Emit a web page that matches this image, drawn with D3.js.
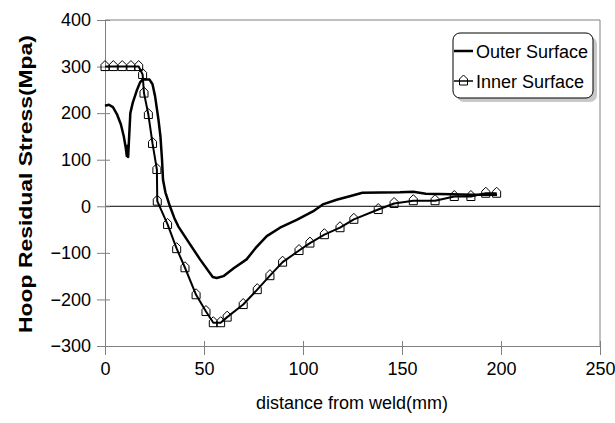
<!DOCTYPE html>
<html lang="en">
<head>
<meta charset="utf-8">
<title>Hoop residual stress</title>
<script src="https://d3js.org/d3.v7.min.js"></script>
<style>
	body { margin: 0; background: #fff; }
	text { font-family: "Liberation Sans", Arial, sans-serif; }
</style>
</head>
<body>
<div id="chart"></div>
<script>
// distance from weld (mm) and stress (MPa)
let outerX = [0, 2, 4, 6, 8, 9.5, 10.5, 11, 11.4, 11.7, 12.2, 12.8, 14, 16, 17.7, 19, 22.5, 24, 25.3, 27, 28, 28.8, 29.3, 30.5, 32.8, 35, 37, 41.3, 48, 54.4, 56.4, 59.8, 65, 71.5, 76, 81.7, 88.4, 96.8, 105, 110, 117, 125, 130, 149, 155.7, 162, 175, 185, 198];
let outerY = [216, 218, 213, 198, 176, 150, 125, 108, 130, 106, 150, 200, 222, 248, 266, 272, 272, 262, 236, 186, 150, 100, 57, 30, 0, -25, -43, -71, -114, -152, -154, -150, -133, -114, -90, -64, -46, -29, -11, 4, 14, 23, 29, 30, 31, 27, 26, 25, 25];

let innerX = [0, 4.2, 8.7, 13.1, 17, 19, 19.7, 21.9, 24, 26.2, 26.4, 31.6, 36.2, 40.4, 46, 51, 54.7, 58.4, 61.7, 69.8, 76.9, 83.3, 89.7, 98, 103.5, 110.8, 118.7, 125.7, 138, 146, 155.7, 166.7, 176.4, 184.8, 192.3, 197.8];
let innerY = [300, 300, 300, 300, 300, 283, 243, 197, 135, 79, 11, -39, -91, -132, -190, -226, -250, -250, -238, -211, -179, -149, -120, -95, -79, -61, -46, -28, -7, 6, 12, 12, 21, 21, 28, 28];

let xTicks = [0, 50, 100, 150, 200, 250];
let yTicks = [-300, -200, -100, 0, 100, 200, 300, 400];
let seriesNames = ["Outer Surface", "Inner Surface"];

let width = 615, height = 423;
let svg = d3.select("#chart").append("svg")
	.attr("width", width)
	.attr("height", height);

let x = d3.scaleLinear().domain([0, 250]).range([105, 600]);
let y = d3.scaleLinear().domain([-300, 400]).range([346, 20]);

let outerData = outerX.map((v, i) => ({x: v, y: outerY[i]}));
let innerData = innerX.map((v, i) => ({x: v, y: innerY[i]}));

// frame top and right
svg.append("path")
	.attr("d", `M${x(0)},${y(400)}H${x(250)}V${y(-300)}`)
	.attr("fill", "none")
	.attr("stroke", "#808080")
	.attr("stroke-width", 1);

// zero line
svg.append("line")
	.attr("x1", x(0)).attr("x2", x(250))
	.attr("y1", y(0)).attr("y2", y(0))
	.attr("stroke", "#000")
	.attr("stroke-width", 1);

// axes (outer ticks with labels, then inner ticks without)
function styleAxis(g) {
	g.selectAll("path, line").attr("stroke", "#808080");
	g.selectAll("text")
		.attr("fill", "#000")
		.style("font-size", "18px")
		.style("font-family", "'Liberation Sans', Arial, sans-serif");
}

svg.append("g")
	.attr("transform", `translate(0,${y(-300)})`)
	.call(d3.axisBottom(x).tickValues(xTicks).tickSize(9).tickPadding(7).tickSizeOuter(0))
	.call(styleAxis);
svg.append("g")
	.attr("transform", `translate(0,${y(-300)})`)
	.call(d3.axisBottom(x).tickValues(xTicks).tickSize(-5).tickFormat("").tickSizeOuter(0))
	.call(styleAxis);

svg.append("g")
	.attr("transform", `translate(${x(0)},0)`)
	.call(d3.axisLeft(y).tickValues(yTicks).tickSize(8).tickPadding(6).tickSizeOuter(0))
	.call(styleAxis);
svg.append("g")
	.attr("transform", `translate(${x(0)},0)`)
	.call(d3.axisLeft(y).tickValues(yTicks).tickSize(-5).tickFormat("").tickSizeOuter(0))
	.call(styleAxis);

// axis titles
svg.append("text")
	.attr("x", 352)
	.attr("y", 409)
	.attr("text-anchor", "middle")
	.style("font-size", "18px")
	.text("distance from weld(mm)");

svg.append("text")
	.attr("transform", "translate(32,184) rotate(-90)")
	.attr("text-anchor", "middle")
	.style("font-size", "19px")
	.style("font-weight", "bold")
	.attr("textLength", 298)
	.attr("lengthAdjust", "spacingAndGlyphs")
	.text("Hoop Residual Stress(Mpa)");

let line = d3.line()
	.x(d => x(d.x))
	.y(d => y(d.y));

// outer surface
svg.append("path")
	.datum(outerData)
	.attr("fill", "none")
	.attr("stroke", "#000")
	.attr("stroke-width", 2.5)
	.attr("stroke-linejoin", "round")
	.attr("d", line);

// inner surface
svg.append("path")
	.datum(innerData)
	.attr("fill", "none")
	.attr("stroke", "#000")
	.attr("stroke-width", 2)
	.attr("stroke-linejoin", "round")
	.attr("d", line);

// little "house" shaped triangle marker
function markerPath(cx, cy) {
	return "M" + cx + "," + (cy - 6) +
		" L" + (cx + 4) + "," + (cy - 2) +
		" L" + (cx + 4) + "," + (cy + 4) +
		" L" + (cx - 4) + "," + (cy + 4) +
		" L" + (cx - 4) + "," + (cy - 2) + " Z";
}

svg.selectAll("path.marker")
	.data(innerData)
	.enter()
	.append("path")
	.attr("class", "marker")
	.attr("d", d => markerPath(x(d.x), y(d.y)))
	.attr("fill", "none")
	.attr("stroke", "#000")
	.attr("stroke-width", 1);

// legend
let legend = svg.append("g");
legend.append("rect")
	.attr("x", 457).attr("y", 37)
	.attr("width", 140).attr("height", 65)
	.attr("rx", 7)
	.attr("fill", "#c8c8c8");
legend.append("rect")
	.attr("x", 453).attr("y", 33)
	.attr("width", 140).attr("height", 65)
	.attr("rx", 7)
	.attr("fill", "#fff")
	.attr("stroke", "#000")
	.attr("stroke-width", 1);

let items = legend.selectAll("g.item")
	.data(seriesNames)
	.enter()
	.append("g")
	.attr("class", "item")
	.attr("transform", (d, i) => `translate(0,${51 + i * 30})`);

items.append("line")
	.attr("x1", 454).attr("x2", 473)
	.attr("y1", 0).attr("y2", 0)
	.attr("stroke", "#000")
	.attr("stroke-width", (d, i) => i == 0 ? 2.5 : 1.5);

items.filter((d, i) => i == 1)
	.append("path")
	.attr("d", markerPath(463.5, 0))
	.attr("fill", "none")
	.attr("stroke", "#000");

items.append("text")
	.attr("x", 476)
	.attr("y", 6.5)
	.style("font-size", "18px")
	.text(d => d);
</script>
</body>
</html>
